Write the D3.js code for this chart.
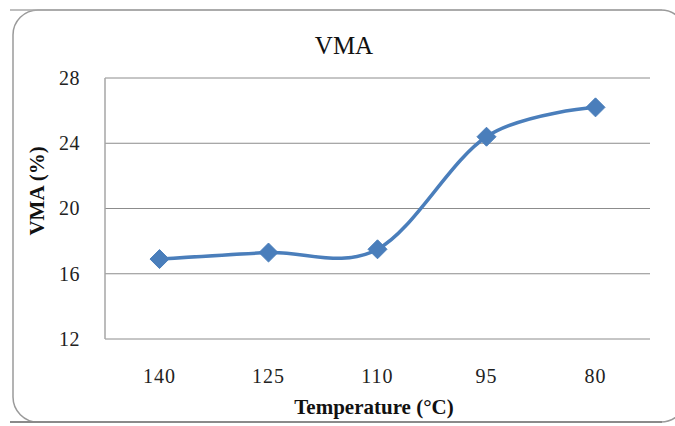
<!DOCTYPE html>
<html>
<head>
<meta charset="utf-8">
<script src="https://cdn.jsdelivr.net/npm/d3@7"></script>
<style>
  html, body { margin: 0; padding: 0; background: #fff; }
  svg { display: block; }
</style>
</head>
<body>
<svg id="chart" width="675" height="426"></svg>
<script>
// VMA against compaction temperature
const temperatures = ["140", "125", "110", "95", "80"];
const vmaValues = [16.9, 17.3, 17.5, 24.4, 26.2];
const yTicks = [12, 16, 20, 24, 28];

const svg = d3.select("#chart");
const plot = { left: 105, right: 650, top: 78, bottom: 339 };
const serif = "'Liberation Serif', 'Times New Roman', serif";
const blue = "#4a7ebb";

// chart frame with rounded corners
const frame = { x0: 13, y0: 10, x1: 686, y1: 422, r: 25 };
svg.append("rect")
  .attr("x", frame.x0).attr("y", frame.y0)
  .attr("width", frame.x1 - frame.x0).attr("height", frame.y1 - frame.y0)
  .attr("rx", frame.r).attr("ry", frame.r)
  .attr("fill", "#fff").attr("stroke", "#9a9a9a").attr("stroke-width", 1.5);
svg.append("line").attr("x1", 10).attr("x2", 662).attr("y1", frame.y0).attr("y2", frame.y0)
  .attr("stroke", "#a8a8a8").attr("stroke-width", 1.5);
svg.append("line").attr("x1", 10).attr("x2", 662).attr("y1", frame.y1).attr("y2", frame.y1)
  .attr("stroke", "#8a8a8a").attr("stroke-width", 2);

const x = d3.scaleBand().domain(temperatures).range([plot.left, plot.right]);
const y = d3.scaleLinear().domain([12, 28]).range([plot.bottom, plot.top]);

// horizontal gridlines
svg.append("g").selectAll("line").data(yTicks).join("line")
  .attr("x1", plot.left).attr("x2", plot.right)
  .attr("y1", d => y(d)).attr("y2", d => y(d))
  .attr("stroke", "#8c8c8c").attr("stroke-width", 1);

// vertical axis line
svg.append("line")
  .attr("x1", plot.left).attr("x2", plot.left)
  .attr("y1", plot.top).attr("y2", plot.bottom)
  .attr("stroke", "#a6a6a6").attr("stroke-width", 1.5);

// y tick labels
svg.append("g").selectAll("text").data(yTicks).join("text")
  .attr("x", 80).attr("y", d => y(d))
  .attr("dy", "0.34em")
  .attr("text-anchor", "end")
  .attr("font-family", serif).attr("font-size", 20).attr("fill", "#222")
  .attr("letter-spacing", 0.5)
  .text(d => d);

// x tick labels
svg.append("g").selectAll("text").data(temperatures).join("text")
  .attr("x", d => x(d) + x.bandwidth() / 2).attr("y", 383)
  .attr("text-anchor", "middle")
  .attr("font-family", serif).attr("font-size", 20).attr("fill", "#222")
  .attr("letter-spacing", 1)
  .text(d => d);

// title
svg.append("text")
  .attr("x", 344).attr("y", 54)
  .attr("text-anchor", "middle")
  .attr("font-family", serif).attr("font-size", 25).attr("fill", "#111")
  .text("VMA");

// axis titles
svg.append("text")
  .attr("x", 374).attr("y", 414)
  .attr("text-anchor", "middle")
  .attr("font-family", serif).attr("font-weight", "bold").attr("font-size", 21).attr("fill", "#111")
  .text("Temperature (°C)");
svg.append("text")
  .attr("transform", "translate(44,191) rotate(-90)")
  .attr("text-anchor", "middle")
  .attr("font-family", serif).attr("font-weight", "bold").attr("font-size", 21).attr("fill", "#111")
  .text("VMA (%)");

// smoothed series line
const pts = temperatures.map((t, i) => [x(t) + x.bandwidth() / 2, y(vmaValues[i])]);
svg.append("path")
  .attr("d", d3.line().curve(d3.curveCatmullRom.alpha(0))(pts))
  .attr("fill", "none").attr("stroke", blue).attr("stroke-width", 3.5)
  .attr("stroke-linejoin", "round");

// diamond markers
const diamond = "M0,-9.5L9.5,0L0,9.5L-9.5,0Z";
svg.append("g").selectAll("path").data(pts).join("path")
  .attr("transform", d => `translate(${d[0]},${d[1]})`)
  .attr("d", diamond)
  .attr("fill", blue).attr("stroke", blue).attr("stroke-width", 1);
</script>
</body>
</html>
